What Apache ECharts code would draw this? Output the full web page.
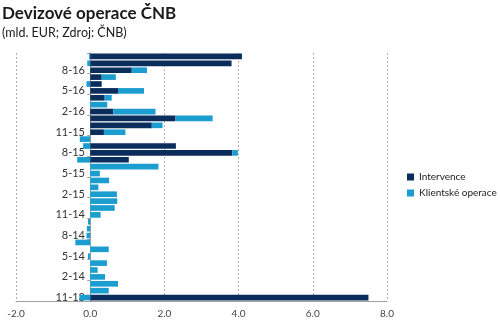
<!DOCTYPE html>
<html><head><meta charset="utf-8">
<script src="https://cdn.jsdelivr.net/npm/echarts@6/dist/echarts.min.js"></script>
<style>html,body{margin:0;padding:0;background:#fff}#c{width:500px;height:326px}</style>
</head><body><div id="c"></div>
<script>
var categories = ['11-13','12-13','1-14','2-14','3-14','4-14','5-14','6-14','7-14','8-14','9-14','10-14',
  '11-14','12-14','1-15','2-15','3-15','4-15','5-15','6-15','7-15','8-15','9-15','10-15',
  '11-15','12-15','1-16','2-16','3-16','4-16','5-16','6-16','7-16','8-16','9-16','10-16'];
var intervence = [7.5,0,0,0,0,0,0,0,0,0,0,0,
  0,0,0,0,0,0,0,0,1.04,3.83,2.31,0,
  0.37,1.66,2.30,0.62,0,0.39,0.75,0.31,0.31,1.12,3.81,4.09];
var klientske = [-0.29,0.50,0.75,0.40,0.20,0.45,-0.06,0.50,-0.40,-0.10,-0.09,-0.06,
  0.28,0.66,0.73,0.72,0.22,0.51,0.26,1.84,-0.35,0.15,-0.19,-0.28,
  0.58,0.29,1.00,1.14,0.46,0.19,0.70,-0.10,0.38,0.41,-0.08,-0.03];
var xTicks = {min:-2, max:8, interval:2};

var chart = echarts.init(document.getElementById('c'), null, {renderer:'canvas'});
var font = 'Lato, "Open Sans", sans-serif';
chart.setOption({
  animation:false,
  textStyle:{fontFamily:font},
  title:[
    {text:'Devizové operace ČNB', left:2, top:5, padding:0, textStyle:{fontFamily:font, fontSize:17, fontWeight:'bold', color:'#1a1a1a'}},
    {text:'(mld. EUR; Zdroj: ČNB)', left:2, top:26, padding:0, textStyle:{fontFamily:font, fontSize:12.5, fontWeight:'normal', color:'#1a1a1a'}}
  ],
  legend:{orient:'vertical', left:407, top:172, padding:0, itemWidth:7, itemHeight:7, itemGap:6, icon:'rect',
    textStyle:{fontSize:10, color:'#222', fontFamily:font}, data:['Intervence','Klientské operace']},
  grid:{left:16, right:113, top:53, bottom:25, containLabel:false, outerBoundsMode:'none'},
  xAxis:{type:'value', min:xTicks.min, max:xTicks.max, interval:xTicks.interval,
    axisLine:{show:true, onZero:false, lineStyle:{color:'#a0a0a0'}}, axisTick:{show:false},
    axisLabel:{formatter:function(v){return v.toFixed(1);}, fontSize:10, color:'#444', margin:8},
    splitLine:{show:true, lineStyle:{color:'#b0b0b0', type:[2,2], width:1}}},
  yAxis:{type:'category', data:categories,
    axisLine:{show:true, onZero:true, lineStyle:{color:'#a0a0a0'}},
    axisTick:{show:true, interval:2, length:3, lineStyle:{color:'#a0a0a0'}},
    axisLabel:{interval:2, fontSize:11, color:'#333', margin:-69}},
  series:[
    {name:'Intervence', type:'bar', stack:'a', data:intervence, barCategoryGap:'18%', itemStyle:{color:'#0b2d5c'}},
    {name:'Klientské operace', type:'bar', stack:'a', data:klientske, itemStyle:{color:'#1c9dcf'}}
  ]
});
</script></body></html>
